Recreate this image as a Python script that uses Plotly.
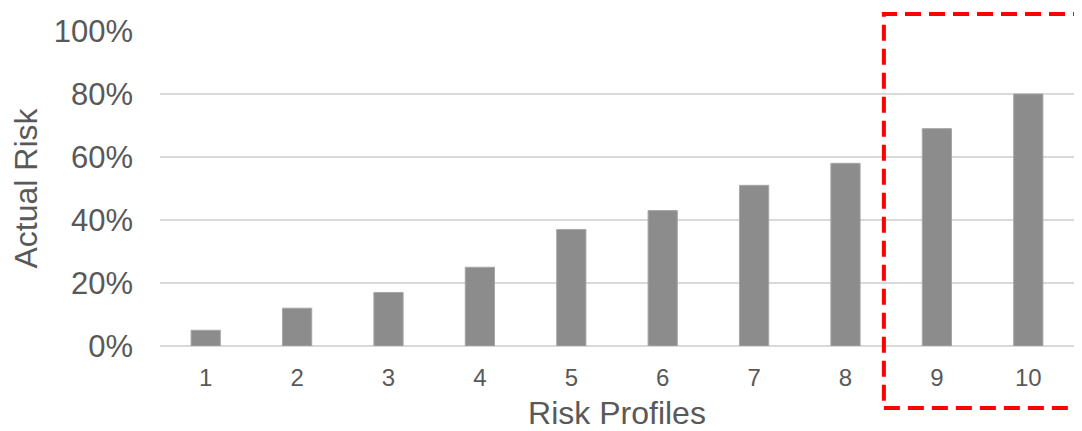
import plotly.graph_objects as go

categories = ["1", "2", "3", "4", "5", "6", "7", "8", "9", "10"]
actual_risk = [0.05, 0.12, 0.17, 0.25, 0.37, 0.43, 0.51, 0.58, 0.69, 0.80]
y_ticks = [0, 0.2, 0.4, 0.6, 0.8, 1.0]
y_tick_labels = ["0%", "20%", "40%", "60%", "80%", "100%"]

FONT = "Liberation Sans, Arial, sans-serif"
TEXT = "#595959"

fig = go.Figure()
fig.add_trace(go.Bar(
    x=categories, y=actual_risk,
    marker=dict(color="#8c8c8c", line=dict(color="#a6a6a6", width=1)),
    width=0.32,
))

fig.update_layout(
    width=1074, height=423,
    margin=dict(l=152, r=8, t=23, b=85),
    paper_bgcolor="white", plot_bgcolor="white",
    showlegend=False,
    font=dict(family=FONT, color=TEXT),
    xaxis=dict(
        type="category", automargin=False,
        title=dict(text="Risk Profiles", font=dict(size=32, color=TEXT), standoff=14),
        tickfont=dict(size=24, color=TEXT),
        showgrid=False, showline=False, ticks="",
        ticklabelstandoff=15,
    ),
    yaxis=dict(
        range=[0, 1.0], automargin=False,
        tickvals=y_ticks, ticktext=y_tick_labels,
        tickfont=dict(size=31, color=TEXT),
        title=dict(text="Actual Risk", font=dict(size=32, color=TEXT), standoff=12),
        showgrid=True, gridcolor="#d9d9d9", gridwidth=2,
        zeroline=True, zerolinecolor="#d9d9d9", zerolinewidth=2,
        showline=False, ticks="",
        ticklabelstandoff=26,
    ),
)

fig.add_shape(
    type="rect", xref="paper", yref="paper",
    x0=0.792, x1=1.03, y0=-0.197, y1=1.054,
    line=dict(color="#ff0000", width=4, dash="16px,8px"),
    fillcolor="rgba(0,0,0,0)", layer="above",
)

fig.write_html("out.html")
